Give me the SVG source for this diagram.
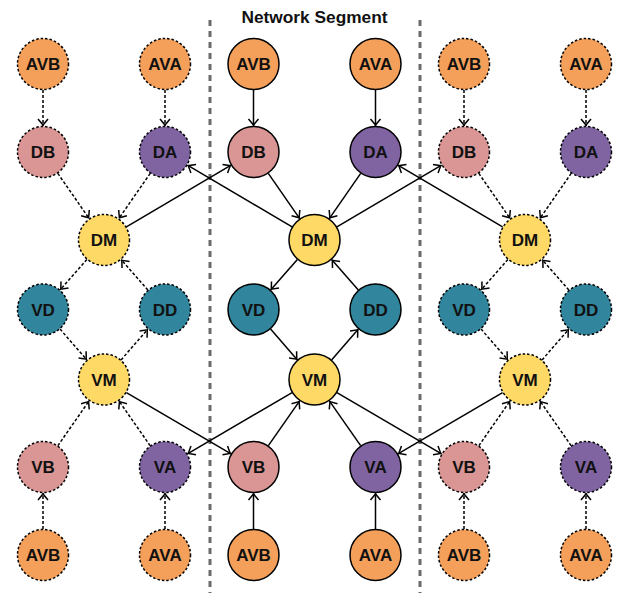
<svg xmlns="http://www.w3.org/2000/svg" width="621" height="593" viewBox="0 0 621 593">
<style>
  .n circle{stroke:#000;stroke-width:1.5}
  .dn circle{stroke-dasharray:2.5 2}
  .n text{font-family:"Liberation Sans",Arial,sans-serif;font-weight:bold;font-size:17px;text-anchor:middle;fill:#111}
  .avb circle,.ava circle{fill:#F5A05A}
  .b circle{fill:#D99694}
  .a circle{fill:#8064A2}
  .m circle{fill:#FFD966}
  .d circle{fill:#31859C}
  .e line{stroke:#000;stroke-width:1.5;fill:none;marker-end:url(#arr)}
  .dash line{stroke-dasharray:3 2}
  .div{stroke:#6b6b6b;stroke-width:3;stroke-dasharray:6 5}
  .title{font-family:"Liberation Sans",Arial,sans-serif;font-weight:bold;font-size:16.5px;text-anchor:middle;fill:#111}
</style>
<defs>
  <marker id="arr" viewBox="-9 -7 10 14" refX="0" refY="0" markerWidth="10" markerHeight="14" markerUnits="userSpaceOnUse" orient="auto">
    <path d="M-7,-5 L-1,0 L-7,5" fill="none" stroke="#000" stroke-width="1.5"/>
  </marker>
</defs>
<g id="dividers">
  <line class="div" x1="210" y1="20" x2="210" y2="593"/>
  <line class="div" x1="420" y1="20" x2="420" y2="593"/>
</g>
<text class="title" x="314.5" y="22.5" textLength="146" lengthAdjust="spacingAndGlyphs">Network Segment</text>
<g id="connectors">
  <g class="e dash" id="edges-left">
    <line x1="43" y1="90" x2="43" y2="126"/>
    <line x1="165" y1="90" x2="165" y2="126"/>
    <line x1="57.8" y1="173.4" x2="89.2" y2="218.6"/>
    <line x1="150.2" y1="173.4" x2="118.8" y2="218.6"/>
    <line x1="86.85" y1="259.5" x2="60.15" y2="289.96"/>
    <line x1="147.85" y1="289.96" x2="121.15" y2="259.54"/>
    <line x1="60.08" y1="329.1" x2="86.92" y2="359.9"/>
    <line x1="121.08" y1="359.9" x2="147.92" y2="329.1"/>
    <line x1="57.87" y1="445.67" x2="89.13" y2="400.83"/>
    <line x1="150.13" y1="445.67" x2="118.87" y2="400.83"/>
    <line x1="43" y1="529" x2="43" y2="493"/>
    <line x1="165" y1="529" x2="165" y2="493"/>
  </g>
  <g class="e" id="edges-middle" transform="translate(210.5,0)">
    <line x1="43" y1="90" x2="43" y2="126"/>
    <line x1="165" y1="90" x2="165" y2="126"/>
    <line x1="57.8" y1="173.4" x2="89.2" y2="218.6"/>
    <line x1="150.2" y1="173.4" x2="118.8" y2="218.6"/>
    <line x1="86.85" y1="259.5" x2="60.15" y2="289.96"/>
    <line x1="147.85" y1="289.96" x2="121.15" y2="259.54"/>
    <line x1="60.08" y1="329.1" x2="86.92" y2="359.9"/>
    <line x1="121.08" y1="359.9" x2="147.92" y2="329.1"/>
    <line x1="57.87" y1="445.67" x2="89.13" y2="400.83"/>
    <line x1="150.13" y1="445.67" x2="118.87" y2="400.83"/>
    <line x1="43" y1="529" x2="43" y2="493"/>
    <line x1="165" y1="529" x2="165" y2="493"/>
  </g>
  <g class="e dash" id="edges-right" transform="translate(421,0)">
    <line x1="43" y1="90" x2="43" y2="126"/>
    <line x1="165" y1="90" x2="165" y2="126"/>
    <line x1="57.8" y1="173.4" x2="89.2" y2="218.6"/>
    <line x1="150.2" y1="173.4" x2="118.8" y2="218.6"/>
    <line x1="86.85" y1="259.5" x2="60.15" y2="289.96"/>
    <line x1="147.85" y1="289.96" x2="121.15" y2="259.54"/>
    <line x1="60.08" y1="329.1" x2="86.92" y2="359.9"/>
    <line x1="121.08" y1="359.9" x2="147.92" y2="329.1"/>
    <line x1="57.87" y1="445.67" x2="89.13" y2="400.83"/>
    <line x1="150.13" y1="445.67" x2="118.87" y2="400.83"/>
    <line x1="43" y1="529" x2="43" y2="493"/>
    <line x1="165" y1="529" x2="165" y2="493"/>
  </g>
  <g class="e" id="edges-cross">
    <line x1="126.41" y1="226.81" x2="231.09" y2="165.19"/>
    <line x1="292.09" y1="226.81" x2="187.41" y2="165.19"/>
    <line x1="336.91" y1="226.81" x2="441.59" y2="165.19"/>
    <line x1="502.59" y1="226.81" x2="397.91" y2="165.19"/>
    <line x1="126.44" y1="392.63" x2="231.06" y2="453.87"/>
    <line x1="292.06" y1="392.63" x2="187.44" y2="453.87"/>
    <line x1="336.94" y1="392.63" x2="441.56" y2="453.87"/>
    <line x1="502.56" y1="392.63" x2="397.94" y2="453.87"/>
  </g>
</g>
<g id="nodes">
  <!-- left segment -->
  <g id="L-AVB-top" class="n dn avb"><circle cx="43" cy="64" r="25.5"/><text x="43" y="70">AVB</text></g>
  <g id="L-AVA-top" class="n dn ava"><circle cx="165" cy="64" r="25.5"/><text x="165" y="70">AVA</text></g>
  <g id="L-DB" class="n dn b"><circle cx="43" cy="152" r="25.5"/><text x="43" y="158">DB</text></g>
  <g id="L-DA" class="n dn a"><circle cx="165" cy="152" r="25.5"/><text x="165" y="158">DA</text></g>
  <g id="L-DM" class="n dn m"><circle cx="104" cy="240" r="25.5"/><text x="104" y="246">DM</text></g>
  <g id="L-VD" class="n dn d"><circle cx="43" cy="309.5" r="25.5"/><text x="43" y="315.5">VD</text></g>
  <g id="L-DD" class="n dn d"><circle cx="165" cy="309.5" r="25.5"/><text x="165" y="315.5">DD</text></g>
  <g id="L-VM" class="n dn m"><circle cx="104" cy="379.5" r="25.5"/><text x="104" y="385.5">VM</text></g>
  <g id="L-VB" class="n dn b"><circle cx="43" cy="467" r="25.5"/><text x="43" y="473">VB</text></g>
  <g id="L-VA" class="n dn a"><circle cx="165" cy="467" r="25.5"/><text x="165" y="473">VA</text></g>
  <g id="L-AVB-bot" class="n dn avb"><circle cx="43" cy="555" r="25.5"/><text x="43" y="561">AVB</text></g>
  <g id="L-AVA-bot" class="n dn ava"><circle cx="165" cy="555" r="25.5"/><text x="165" y="561">AVA</text></g>
  <!-- middle segment -->
  <g id="M-AVB-top" class="n avb"><circle cx="253.5" cy="64" r="25.5"/><text x="253.5" y="70">AVB</text></g>
  <g id="M-AVA-top" class="n ava"><circle cx="375.5" cy="64" r="25.5"/><text x="375.5" y="70">AVA</text></g>
  <g id="M-DB" class="n b"><circle cx="253.5" cy="152" r="25.5"/><text x="253.5" y="158">DB</text></g>
  <g id="M-DA" class="n a"><circle cx="375.5" cy="152" r="25.5"/><text x="375.5" y="158">DA</text></g>
  <g id="M-DM" class="n m"><circle cx="314.5" cy="240" r="25.5"/><text x="314.5" y="246">DM</text></g>
  <g id="M-VD" class="n d"><circle cx="253.5" cy="309.5" r="25.5"/><text x="253.5" y="315.5">VD</text></g>
  <g id="M-DD" class="n d"><circle cx="375.5" cy="309.5" r="25.5"/><text x="375.5" y="315.5">DD</text></g>
  <g id="M-VM" class="n m"><circle cx="314.5" cy="379.5" r="25.5"/><text x="314.5" y="385.5">VM</text></g>
  <g id="M-VB" class="n b"><circle cx="253.5" cy="467" r="25.5"/><text x="253.5" y="473">VB</text></g>
  <g id="M-VA" class="n a"><circle cx="375.5" cy="467" r="25.5"/><text x="375.5" y="473">VA</text></g>
  <g id="M-AVB-bot" class="n avb"><circle cx="253.5" cy="555" r="25.5"/><text x="253.5" y="561">AVB</text></g>
  <g id="M-AVA-bot" class="n ava"><circle cx="375.5" cy="555" r="25.5"/><text x="375.5" y="561">AVA</text></g>
  <!-- right segment -->
  <g id="R-AVB-top" class="n dn avb"><circle cx="464" cy="64" r="25.5"/><text x="464" y="70">AVB</text></g>
  <g id="R-AVA-top" class="n dn ava"><circle cx="586" cy="64" r="25.5"/><text x="586" y="70">AVA</text></g>
  <g id="R-DB" class="n dn b"><circle cx="464" cy="152" r="25.5"/><text x="464" y="158">DB</text></g>
  <g id="R-DA" class="n dn a"><circle cx="586" cy="152" r="25.5"/><text x="586" y="158">DA</text></g>
  <g id="R-DM" class="n dn m"><circle cx="525" cy="240" r="25.5"/><text x="525" y="246">DM</text></g>
  <g id="R-VD" class="n dn d"><circle cx="464" cy="309.5" r="25.5"/><text x="464" y="315.5">VD</text></g>
  <g id="R-DD" class="n dn d"><circle cx="586" cy="309.5" r="25.5"/><text x="586" y="315.5">DD</text></g>
  <g id="R-VM" class="n dn m"><circle cx="525" cy="379.5" r="25.5"/><text x="525" y="385.5">VM</text></g>
  <g id="R-VB" class="n dn b"><circle cx="464" cy="467" r="25.5"/><text x="464" y="473">VB</text></g>
  <g id="R-VA" class="n dn a"><circle cx="586" cy="467" r="25.5"/><text x="586" y="473">VA</text></g>
  <g id="R-AVB-bot" class="n dn avb"><circle cx="464" cy="555" r="25.5"/><text x="464" y="561">AVB</text></g>
  <g id="R-AVA-bot" class="n dn ava"><circle cx="586" cy="555" r="25.5"/><text x="586" y="561">AVA</text></g>
</g>
</svg>
